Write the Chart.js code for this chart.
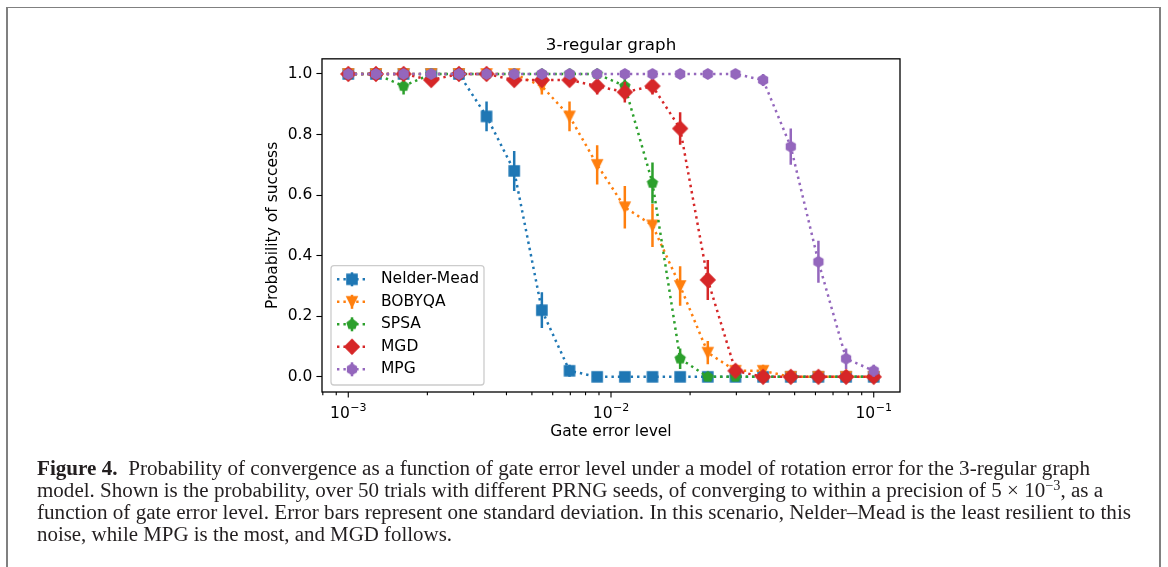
<!DOCTYPE html>
<html><head><meta charset="utf-8">
<script src="https://cdn.jsdelivr.net/npm/chart.js@4/dist/chart.umd.min.js"></script>
<style>
html,body{margin:0;padding:0;background:#fff;width:1168px;height:567px;overflow:hidden;}
#frame{position:absolute;left:6px;top:7px;width:1155px;height:600px;border-top:1px solid #808080;border-left:2px solid #808080;border-right:2px solid #808080;box-sizing:border-box;}
#wrap{position:absolute;left:0;top:0;width:1168px;height:460px;}
#cap{position:absolute;left:37px;top:457px;font-family:"Liberation Serif",serif;font-size:20px;line-height:22px;color:#231f20;white-space:nowrap;}
#cap .ln{display:block;width:max-content;transform-origin:0 50%;}
#cap sup{font-size:0.68em;vertical-align:0.5em;line-height:0;}
</style></head>
<body>
<div id="frame"></div>
<div id="wrap"><canvas id="c" width="1168" height="460"></canvas></div>
<div id="cap">
<span class="ln" data-w="1053"><b>Figure 4.</b><span style="display:inline-block;width:10px"></span>Probability of convergence as a function of gate error level under a model of rotation error for the 3-regular graph</span>
<span class="ln" data-w="1066">model. Shown is the probability, over 50 trials with different PRNG seeds, of converging to within a precision of 5 × 10<sup>−3</sup>, as a</span>
<span class="ln" data-w="1094">function of gate error level. Error bars represent one standard deviation. In this scenario, Nelder–Mead is the least resilient to this</span>
<span class="ln" data-w="415">noise, while MPG is the most, and MGD follows.</span>
</div>
<script>
// ---- data ----
const gateError = [0.0010000, 0.0012743, 0.0016238, 0.0020691, 0.0026367, 0.0033598, 0.0042813, 0.0054556, 0.0069519, 0.0088587,
                   0.011288, 0.014384, 0.018330, 0.023357, 0.029764, 0.037927, 0.048329, 0.061585, 0.078476, 0.10000];
const nelderMead = [1, 1, 1, 1, 1, 0.86, 0.68, 0.22, 0.02, 0, 0, 0, 0, 0, 0, 0, 0, 0, 0, 0];
const nelderMeadErr = [0, 0, 0, 0, 0, 0.049, 0.066, 0.059, 0.020, 0, 0, 0, 0, 0, 0, 0, 0, 0, 0, 0];
const bobyqa = [1, 1, 1, 1, 1, 1, 1, 0.96, 0.86, 0.70, 0.56, 0.50, 0.30, 0.08, 0.02, 0.02, 0, 0, 0, 0];
const bobyqaErr = [0, 0, 0, 0, 0, 0, 0, 0.028, 0.049, 0.065, 0.070, 0.071, 0.065, 0.038, 0.020, 0.020, 0, 0, 0, 0];
const spsa = [1, 1, 0.96, 1, 1, 1, 1, 1, 1, 1, 0.96, 0.64, 0.06, 0, 0, 0, 0, 0, 0, 0];
const spsaErr = [0, 0, 0.028, 0, 0, 0, 0, 0, 0, 0, 0.028, 0.068, 0.034, 0, 0, 0, 0, 0, 0, 0];
const mgd = [1, 1, 1, 0.98, 1, 1, 0.98, 0.98, 0.98, 0.96, 0.94, 0.96, 0.82, 0.32, 0.02, 0, 0, 0, 0, 0];
const mgdErr = [0, 0, 0, 0.020, 0, 0, 0.020, 0.020, 0.020, 0.028, 0.034, 0.028, 0.054, 0.066, 0.020, 0, 0, 0, 0, 0];
const mpg = [1, 1, 1, 1, 1, 1, 1, 1, 1, 1, 1, 1, 1, 1, 1, 0.98, 0.76, 0.38, 0.06, 0.02];
const mpgErr = [0, 0, 0, 0, 0, 0, 0, 0, 0, 0, 0, 0, 0, 0, 0, 0.020, 0.060, 0.069, 0.034, 0.020];

const seriesNames = ['Nelder-Mead', 'BOBYQA', 'SPSA', 'MGD', 'MPG'];
const yTicks = [0, 0.2, 0.4, 0.6, 0.8, 1.0];
const xMajorTicks = [0.001, 0.01, 0.1];
const xMajorExps = ['\u22123', '\u22122', '\u22121'];
const xMinorTicks = [0.0008, 0.0009, 0.002, 0.003, 0.004, 0.005, 0.006, 0.007, 0.008, 0.009,
                     0.02, 0.03, 0.04, 0.05, 0.06, 0.07, 0.08, 0.09];
const xMin = Math.pow(10, -3.1), xMax = Math.pow(10, -0.9);
const yMin = -0.05, yMax = 1.05;

// fit caption lines to the reference line lengths
document.querySelectorAll('#cap .ln').forEach(el => {
  const w = el.getBoundingClientRect().width;
  const target = parseFloat(el.dataset.w);
  el.style.transform = 'scaleX(' + (target / w) + ')';
});

// ---- styling ----
const colors = ['#1f77b4', '#ff7f0e', '#2ca02c', '#d62728', '#9467bd'];
const shapes = ['square', 'tri_down', 'pentagon', 'diamond', 'hexagon'];
const FONT = '"DejaVu Sans"';
const MS = 10, EDGE = 1.6, LW = 2.5, DASH = [2.4, 4.0];

function makeMarker(shape, color) {
  const s = 22, c = document.createElement('canvas');
  c.width = s; c.height = s;
  const g = c.getContext('2d');
  g.translate(s / 2, s / 2);
  g.fillStyle = color; g.strokeStyle = color; g.lineWidth = EDGE; g.lineJoin = 'miter';
  const h = MS / 2;
  g.beginPath();
  const poly = (n) => { for (let k = 0; k < n; k++) { const a = -Math.PI / 2 + 2 * Math.PI * k / n; const px = h * Math.cos(a), py = h * Math.sin(a); k ? g.lineTo(px, py) : g.moveTo(px, py); } g.closePath(); };
  if (shape === 'square') g.rect(-h, -h, MS, MS);
  else if (shape === 'tri_down') { g.moveTo(0, h); g.lineTo(-h, -h); g.lineTo(h, -h); g.closePath(); }
  else if (shape === 'diamond') { const d = h * Math.SQRT2; g.moveTo(0, -d); g.lineTo(d, 0); g.lineTo(0, d); g.lineTo(-d, 0); g.closePath(); }
  else if (shape === 'pentagon') poly(5);
  else if (shape === 'hexagon') poly(6);
  g.fill(); g.stroke();
  return c;
}
const markers = shapes.map((s, i) => makeMarker(s, colors[i]));
const values = [nelderMead, bobyqa, spsa, mgd, mpg];
const errs = [nelderMeadErr, bobyqaErr, spsaErr, mgdErr, mpgErr];

const datasets = seriesNames.map((name, i) => ({
  label: name,
  data: gateError.map((x, j) => ({ x: x, y: values[i][j] })),
  errors: errs[i],
  borderColor: colors[i],
  backgroundColor: colors[i],
  borderWidth: LW,
  borderDash: DASH,
  borderCapStyle: 'butt',
  pointStyle: markers[i],
  pointRadius: 6,
  pointHoverRadius: 6,
  tension: 0,
  fill: false,
  order: 5 - i,
  clip: false
}));

const errorBars = {
  id: 'errorBars',
  beforeDatasetDraw(chart, args) {
    const ds = chart.data.datasets[args.index];
    const { ctx } = chart;
    const y = chart.scales.y;
    ctx.save();
    ctx.strokeStyle = ds.borderColor; ctx.lineWidth = LW; ctx.lineCap = 'butt';
    ctx.beginPath();
    args.meta.data.forEach((pt, j) => {
      const e = ds.errors[j];
      if (!e) return;
      const v = ds.data[j].y;
      ctx.moveTo(pt.x, y.getPixelForValue(v - e));
      ctx.lineTo(pt.x, y.getPixelForValue(v + e));
    });
    ctx.stroke();
    ctx.restore();
  }
};

const frameAndTicks = {
  id: 'frameAndTicks',
  afterDraw(chart) {
    const { ctx, chartArea: a } = chart;
    const x = chart.scales.x;
    ctx.save();
    ctx.strokeStyle = '#000'; ctx.lineWidth = 1.3;
    ctx.strokeRect(a.left, a.top, a.right - a.left, a.bottom - a.top);
    ctx.beginPath();
    xMajorTicks.forEach(v => { const p = x.getPixelForValue(v); ctx.moveTo(p, a.bottom); ctx.lineTo(p, a.bottom + 5.6); });
    xMinorTicks.forEach(v => { const p = x.getPixelForValue(v); ctx.moveTo(p, a.bottom); ctx.lineTo(p, a.bottom + 3.2); });
    ctx.lineWidth = 1.1;
    ctx.stroke();
    ctx.fillStyle = '#000'; ctx.textBaseline = 'alphabetic'; ctx.textAlign = 'left';
    const baseY = a.bottom + 25.5;
    xMajorTicks.forEach((v, k) => {
      const p = x.getPixelForValue(v);
      ctx.font = '15.5px ' + FONT; const w1 = ctx.measureText('10').width;
      ctx.font = '11px ' + FONT; const w2 = ctx.measureText(xMajorExps[k]).width;
      const sx = p - (w1 + w2 + 0.5) / 2;
      ctx.font = '15.5px ' + FONT; ctx.fillText('10', sx, baseY);
      ctx.font = '11px ' + FONT; ctx.fillText(xMajorExps[k], sx + w1 + 0.5, baseY - 7);
    });
    ctx.restore();
  }
};

const customLegend = {
  id: 'customLegend',
  afterDraw(chart) {
    const { ctx, chartArea: a } = chart;
    const boxL = a.left + 9, boxB = a.bottom - 7, boxW = 153, boxH = 119.3, boxT = boxB - boxH;
    ctx.save();
    ctx.beginPath();
    ctx.roundRect(boxL, boxT, boxW, boxH, 3);
    ctx.fillStyle = 'rgba(255,255,255,0.8)'; ctx.fill();
    ctx.strokeStyle = '#cccccc'; ctx.lineWidth = 1.3; ctx.stroke();
    chart.data.datasets.forEach((ds, i) => {
      const yy = boxT + 13.6 + i * 22.5;
      const mx = boxL + 21;
      ctx.strokeStyle = ds.borderColor; ctx.lineWidth = LW; ctx.setLineDash(DASH); ctx.lineCap = 'butt';
      ctx.beginPath(); ctx.moveTo(boxL + 6, yy); ctx.lineTo(boxL + 36, yy); ctx.stroke();
      ctx.setLineDash([]);
      ctx.beginPath(); ctx.moveTo(mx, yy - 7); ctx.lineTo(mx, yy + 7); ctx.stroke();
      const m = ds.pointStyle;
      ctx.drawImage(m, mx - m.width / 2, yy - m.height / 2);
      ctx.fillStyle = '#000'; ctx.font = '15.5px ' + FONT; ctx.textBaseline = 'middle'; ctx.textAlign = 'left';
      ctx.fillText(ds.label, boxL + 50, yy);
    });
    ctx.restore();
  }
};

Chart.defaults.font.family = 'DejaVu Sans';
Chart.defaults.color = '#000';

new Chart(document.getElementById('c'), {
  type: 'line',
  data: { datasets: datasets },
  plugins: [errorBars, frameAndTicks, customLegend],
  options: {
    responsive: false,
    devicePixelRatio: 1,
    animation: false,
    events: [],
    layout: { padding: { left: 262, right: 268, top: 35.5, bottom: 18 } },
    plugins: {
      legend: { display: false },
      tooltip: { enabled: false },
      title: { display: true, text: '3-regular graph', fullSize: false, color: '#000',
               font: { family: 'DejaVu Sans', size: 16.7, weight: 'normal' }, padding: { top: 0, bottom: 3.3 } }
    },
    scales: {
      x: {
        type: 'logarithmic', min: xMin, max: xMax,
        ticks: { display: false },
        grid: { display: false },
        border: { display: false },
        title: { display: true, text: 'Gate error level', color: '#000',
                 font: { family: 'DejaVu Sans', size: 15.5 }, padding: { top: 0, bottom: 0.7 } },
        afterFit: s => { s.height = 50; }
      },
      y: {
        type: 'linear', min: yMin, max: yMax,
        afterBuildTicks: s => { s.ticks = yTicks.map(v => ({ value: v })); },
        ticks: { callback: v => Number(v).toFixed(1), color: '#000', padding: 4,
                 font: { family: 'DejaVu Sans', size: 15.5 } },
        grid: { drawOnChartArea: false, drawTicks: true, tickLength: 5.6, tickColor: '#000', tickWidth: 1.1 },
        border: { display: false },
        title: { display: true, text: 'Probability of success', color: '#000',
                 font: { family: 'DejaVu Sans', size: 15.5 }, padding: { top: 1.7, bottom: 0 } },
        afterFit: s => { s.width = 60; }
      }
    }
  }
});
</script>
</body></html>
